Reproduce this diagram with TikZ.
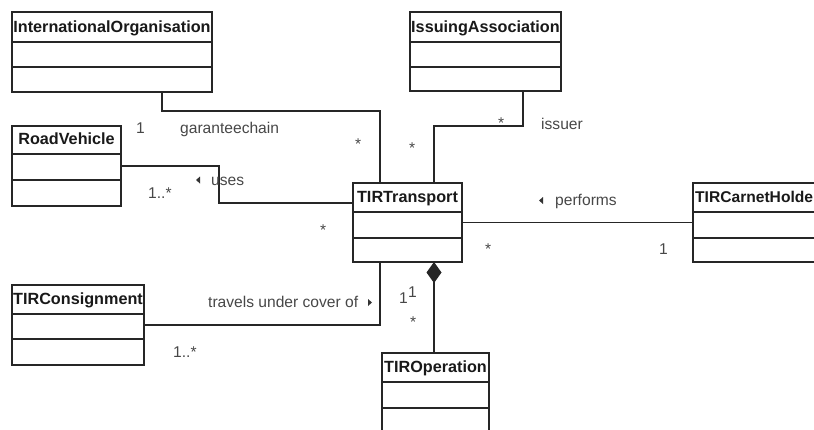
\documentclass[tikz,border=0pt]{standalone}
\usepackage{fontspec}
\setmainfont{Liberation Sans}
\usetikzlibrary{arrows.meta}
\tikzset{
  classbox/.style={draw=black!85, line width=1.4pt, inner sep=0pt, outer sep=0pt, fill=white},
  classline/.style={draw=black!85, line width=1.4pt},
  thickbox/.style={line width=2.6pt},
  classname/.style={font=\fontsize{16.2}{19}\selectfont\bfseries, text=black!90, inner sep=0pt},
  lbl/.style={font=\fontsize{15.6}{18}\selectfont, text=black!72, inner sep=0pt, anchor=base west},
  conn/.style={draw=black!85, line width=1.3pt},
  tri/.style={fill=black!80}
}
\newcommand{\umlclass}[9]{%
  \node[classbox,#9,minimum width=#4pt,minimum height=#7pt,anchor=north west] (#1) at (#2,#3) {};
  \draw[classline,#9] (#2,{#3+#5}) -- ++(#4,0);
  \draw[classline,#9] (#2,{#3+#6}) -- ++(#4,0);
  \node[classname,anchor=base] at ({#2+#4/2},{#3+#5-10}) {#8};
}
\begin{document}
\begin{tikzpicture}[x=1pt,y=-1pt]
\useasboundingbox (0,0) rectangle (814,429);
\clip (0,0) rectangle (814,429);

% classes
\umlclass{io}{12}{12}{200}{30}{55}{80}{InternationalOrganisation}{}
\umlclass{ia}{410}{12}{151}{30}{55}{79}{IssuingAssociation}{}
\umlclass{rv}{12}{126}{109}{28}{54}{80}{RoadVehicle}{}
\umlclass{tt}{353}{183}{109}{29}{55}{79}{TIRTransport}{thickbox}
\umlclass{tch}{693}{183}{129}{29}{55}{79}{}{}
\node[classname,anchor=base west,font=\fontsize{15.6}{19}\selectfont\bfseries] at (695,202) {TIRCarnetHolde};
\umlclass{tc}{12}{285}{132}{29}{54}{80}{TIRConsignment}{}
\umlclass{to}{382}{353}{107}{29}{55}{100}{TIROperation}{}

% connectors
\draw[conn] ([xshift=150pt]io.south west) -- ++(0,19) -| ([xshift=27pt]tt.north west);
\draw[conn] ([xshift=113pt]ia.south west) -- ++(0,35) -| ([xshift=81pt]tt.north west);
\draw[conn] (rv.east) -- ++(98,0) |- ([yshift=-20pt]tt.north west);
\draw[conn] (tt.east) -- (tch.west);
\draw[conn] (tc.east) -| ([xshift=27pt]tt.south west);
\draw[conn, {Diamond[length=21pt,width=15pt]}-] ([xshift=81pt]tt.south west) -- ([xshift=81pt]tt.south west |- to.north);

% labels
\node[lbl] at (136,133) {1};
\node[lbl] at (180,133) {garanteechain};
\node[lbl] at (355,149) {*};
\node[lbl] at (409,153) {*};
\node[lbl] at (498,128) {*};
\node[lbl] at (541,129) {issuer};
\fill[tri] (196,180) -- (200,176.5) -- (200,183.5) -- cycle;
\node[lbl] at (211,185) {uses};
\node[lbl] at (148,198) {1..*};
\node[lbl] at (320,235) {*};
\fill[tri] (539,200.5) -- (543,197) -- (543,204) -- cycle;
\node[lbl] at (555,205) {performs};
\node[lbl] at (485,254) {*};
\node[lbl] at (659,254) {1};
\node[lbl] at (208,307) {travels under cover of};
\fill[tri] (372,302.5) -- (368,299) -- (368,306) -- cycle;
\node[lbl] at (399,303) {1};
\node[lbl] at (408,297) {1};
\node[lbl] at (410,327) {*};
\node[lbl] at (173,357) {1..*};
\end{tikzpicture}
\end{document}
